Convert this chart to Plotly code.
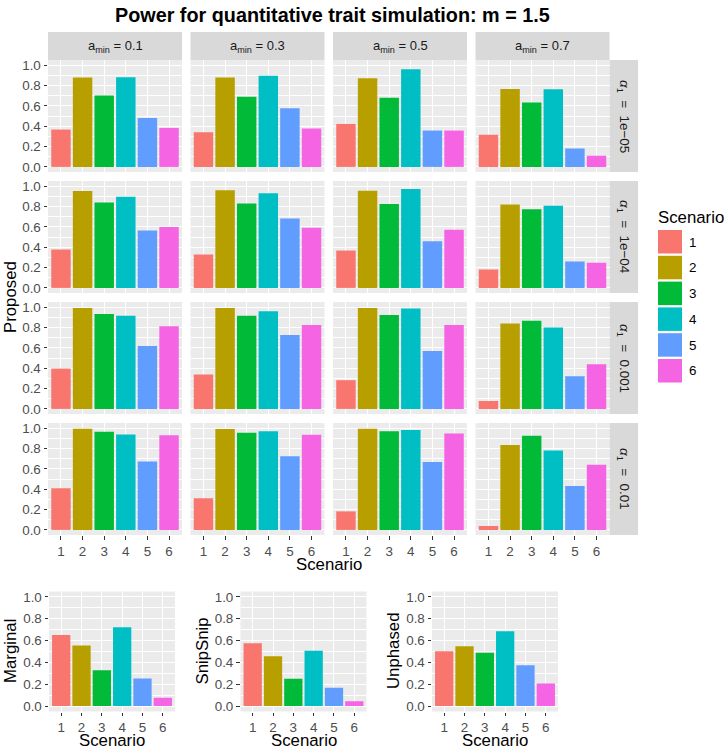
import plotly.graph_objects as go

W, H = 725, 750

scenarios = [1, 2, 3, 4, 5, 6]
scenario_colors = ["#F8766D", "#B79F00", "#00BA38", "#00BFC4", "#619CFF", "#F564E3"]
amin_labels = ["0.1", "0.3", "0.5", "0.7"]
alpha_labels = ["1e\u221205", "1e\u221204", "0.001", "0.01"]

# Proposed power, one list per a_min column, for each alpha row
proposed_1e05 = [[0.367, 0.877, 0.701, 0.880, 0.481, 0.383],
                 [0.341, 0.877, 0.688, 0.896, 0.575, 0.377],
                 [0.422, 0.870, 0.679, 0.958, 0.357, 0.357],
                 [0.315, 0.766, 0.633, 0.763, 0.182, 0.110]]
proposed_1e04 = [[0.377, 0.951, 0.838, 0.896, 0.565, 0.597],
                 [0.328, 0.958, 0.828, 0.929, 0.682, 0.591],
                 [0.367, 0.955, 0.825, 0.971, 0.458, 0.571],
                 [0.180, 0.818, 0.773, 0.808, 0.260, 0.247]]
proposed_0001 = [[0.396, 0.990, 0.932, 0.916, 0.617, 0.812],
                 [0.338, 0.990, 0.916, 0.958, 0.727, 0.825],
                 [0.282, 0.990, 0.922, 0.987, 0.568, 0.825],
                 [0.078, 0.838, 0.867, 0.799, 0.321, 0.438]]
proposed_001 = [[0.409, 0.994, 0.964, 0.938, 0.672, 0.929],
                [0.312, 0.990, 0.955, 0.968, 0.724, 0.935],
                [0.182, 0.994, 0.968, 0.981, 0.666, 0.948],
                [0.039, 0.834, 0.925, 0.779, 0.432, 0.640]]
proposed_rows = [proposed_1e05, proposed_1e04, proposed_0001, proposed_001]

marginal = [0.652, 0.555, 0.329, 0.723, 0.253, 0.076]
snipsnip = [0.576, 0.457, 0.250, 0.506, 0.168, 0.043]
unphased = [0.503, 0.549, 0.488, 0.686, 0.375, 0.207]
other_methods = [("Marginal", marginal), ("SnipSnip", snipsnip), ("Unphased", unphased)]

FONT = "Liberation Sans, Arial, Helvetica, sans-serif"
PANEL_BG = "#EBEBEB"
STRIP_BG = "#D9D9D9"
TICK_COL = "#4D4D4D"
TICK_SIZE = 13.4
TITLE_SIZE = 16.8


def fx(px):
    return px / W


def fy(py):
    return 1 - py / H


col_x = [(48, 182), (190.5, 324.5), (333, 467), (475.5, 609.5)]
row_y = [(60, 172), (181, 293), (302, 414), (423, 535)]
bottom_x = [(49, 175), (240.5, 366.5), (432, 558)]
bottom_y = (591.5, 711.5)

fig = go.Figure()
layout = dict(
    width=W, height=H,
    margin=dict(l=0, r=0, t=0, b=0, pad=0),
    paper_bgcolor="white", plot_bgcolor=PANEL_BG,
    showlegend=False, bargap=0.1,
    font=dict(family=FONT, color="#1A1A1A"),
)
shapes = []
annotations = []


def axis_pair(n, xd, yd, show_x, show_y):
    xname = "xaxis" if n == 1 else f"xaxis{n}"
    yname = "yaxis" if n == 1 else f"yaxis{n}"
    xa = dict(domain=[fx(xd[0]), fx(xd[1])], anchor=f"y{'' if n == 1 else n}",
              range=[0.4, 6.6], tickvals=scenarios, ticktext=[str(s) for s in scenarios],
              showgrid=True, gridcolor="white", gridwidth=1.1, zeroline=False,
              showticklabels=show_x, ticks="outside" if show_x else "", ticklen=3.5,
              tickcolor="#333333", tickwidth=1.1,
              tickfont=dict(size=TICK_SIZE, color=TICK_COL, family=FONT), automargin=False,
              showline=False, fixedrange=True)
    ya = dict(domain=[fy(yd[1]), fy(yd[0])], anchor=f"x{'' if n == 1 else n}",
              range=[-0.05, 1.05], tickvals=[0, 0.2, 0.4, 0.6, 0.8, 1.0],
              ticktext=["0.0", "0.2", "0.4", "0.6", "0.8", "1.0"],
              showgrid=True, gridcolor="white", gridwidth=1.1, zeroline=False,
              minor=dict(tickvals=[0.1, 0.3, 0.5, 0.7, 0.9], showgrid=True,
                         gridcolor="white", gridwidth=0.5, ticks=""),
              showticklabels=show_y, ticks="outside" if show_y else "", ticklen=3.5,
              tickcolor="#333333", tickwidth=1.1,
              tickfont=dict(size=TICK_SIZE, color=TICK_COL, family=FONT), automargin=False,
              showline=False, fixedrange=True)
    layout[xname] = xa
    layout[yname] = ya
    return ("x" if n == 1 else f"x{n}"), ("y" if n == 1 else f"y{n}")


n = 0
for r, row_vals in enumerate(proposed_rows):
    for c, vals in enumerate(row_vals):
        n += 1
        xr, yr = axis_pair(n, col_x[c], row_y[r], r == 3, c == 0)
        fig.add_trace(go.Bar(x=scenarios, y=vals, width=0.9,
                             marker=dict(color=scenario_colors, line=dict(width=0)),
                             xaxis=xr, yaxis=yr, hoverinfo="x+y"))

for k, (name, vals) in enumerate(other_methods):
    n += 1
    xr, yr = axis_pair(n, bottom_x[k], bottom_y, True, True)
    fig.add_trace(go.Bar(x=scenarios, y=vals, width=0.9,
                         marker=dict(color=scenario_colors, line=dict(width=0)),
                         xaxis=xr, yaxis=yr, hoverinfo="x+y"))
    xc = (bottom_x[k][0] + bottom_x[k][1]) / 2
    annotations.append(dict(text="Scenario", x=fx(xc), y=fy(740), xref="paper", yref="paper",
                            showarrow=False, font=dict(size=TITLE_SIZE, color="black", family=FONT),
                            xanchor="center", yanchor="middle"))
    annotations.append(dict(text=name, x=fx(bottom_x[k][0] - 39), y=fy(651), xref="paper", yref="paper",
                            showarrow=False, textangle=-90,
                            font=dict(size=TITLE_SIZE, color="black", family=FONT),
                            xanchor="center", yanchor="middle"))

# top strips
for c, lab in enumerate(amin_labels):
    x0, x1 = col_x[c]
    shapes.append(dict(type="rect", xref="paper", yref="paper", x0=fx(x0), x1=fx(x1), y0=fy(60), y1=fy(32),
                       fillcolor=STRIP_BG, line=dict(width=0), layer="below"))
    annotations.append(dict(text=f"a<sub>min</sub> = {lab}", x=fx((x0 + x1) / 2), y=fy(46), xref="paper",
                            yref="paper", showarrow=False, font=dict(size=13, color="#1A1A1A", family=FONT),
                            xanchor="center", yanchor="middle"))

# right strips
for r, lab in enumerate(alpha_labels):
    y0, y1 = row_y[r]
    shapes.append(dict(type="rect", xref="paper", yref="paper", x0=fx(609.5), x1=fx(638), y0=fy(y1), y1=fy(y0),
                       fillcolor=STRIP_BG, line=dict(width=0), layer="below"))
    annotations.append(dict(text=f"<i>\u03b1</i><sub>1</sub>  =  {lab}", x=fx(624), y=fy((y0 + y1) / 2),
                            xref="paper", yref="paper", showarrow=False, textangle=90,
                            font=dict(size=13.4, color="#1A1A1A", family=FONT),
                            xanchor="center", yanchor="middle"))

# main axis titles and plot title
annotations.append(dict(text="Scenario", x=fx(329), y=fy(564), xref="paper", yref="paper", showarrow=False,
                        font=dict(size=TITLE_SIZE, color="black", family=FONT),
                        xanchor="center", yanchor="middle"))
annotations.append(dict(text="Proposed", x=fx(10), y=fy(297), xref="paper", yref="paper", showarrow=False,
                        textangle=-90, font=dict(size=TITLE_SIZE, color="black", family=FONT),
                        xanchor="center", yanchor="middle"))
annotations.append(dict(text="<b>Power for quantitative trait simulation: m = 1.5</b>", x=fx(332), y=fy(15),
                        xref="paper", yref="paper", showarrow=False,
                        font=dict(size=19.8, color="black", family=FONT), xanchor="center", yanchor="middle"))

# legend
annotations.append(dict(text="Scenario", x=fx(656), y=fy(217), xref="paper", yref="paper", showarrow=False,
                        font=dict(size=TITLE_SIZE, color="black", family=FONT), xanchor="left", yanchor="middle"))
for i, s in enumerate(scenarios):
    top = 230 + i * 25.8
    shapes.append(dict(type="rect", xref="paper", yref="paper", x0=fx(658), x1=fx(682), y0=fy(top + 23.5),
                       y1=fy(top), fillcolor=scenario_colors[i], line=dict(width=0)))
    annotations.append(dict(text=str(s), x=fx(687), y=fy(top + 12), xref="paper", yref="paper",
                            showarrow=False, font=dict(size=TICK_SIZE, color="black", family=FONT),
                            xanchor="left", yanchor="middle"))

layout["shapes"] = shapes
layout["annotations"] = annotations
fig.update_layout(**layout)
# remove the browser's default 8px page margin so the figure fills the window exactly
fig.write_html("out.html", config={"displayModeBar": False},
               post_script="document.body.style.margin='0px';")
